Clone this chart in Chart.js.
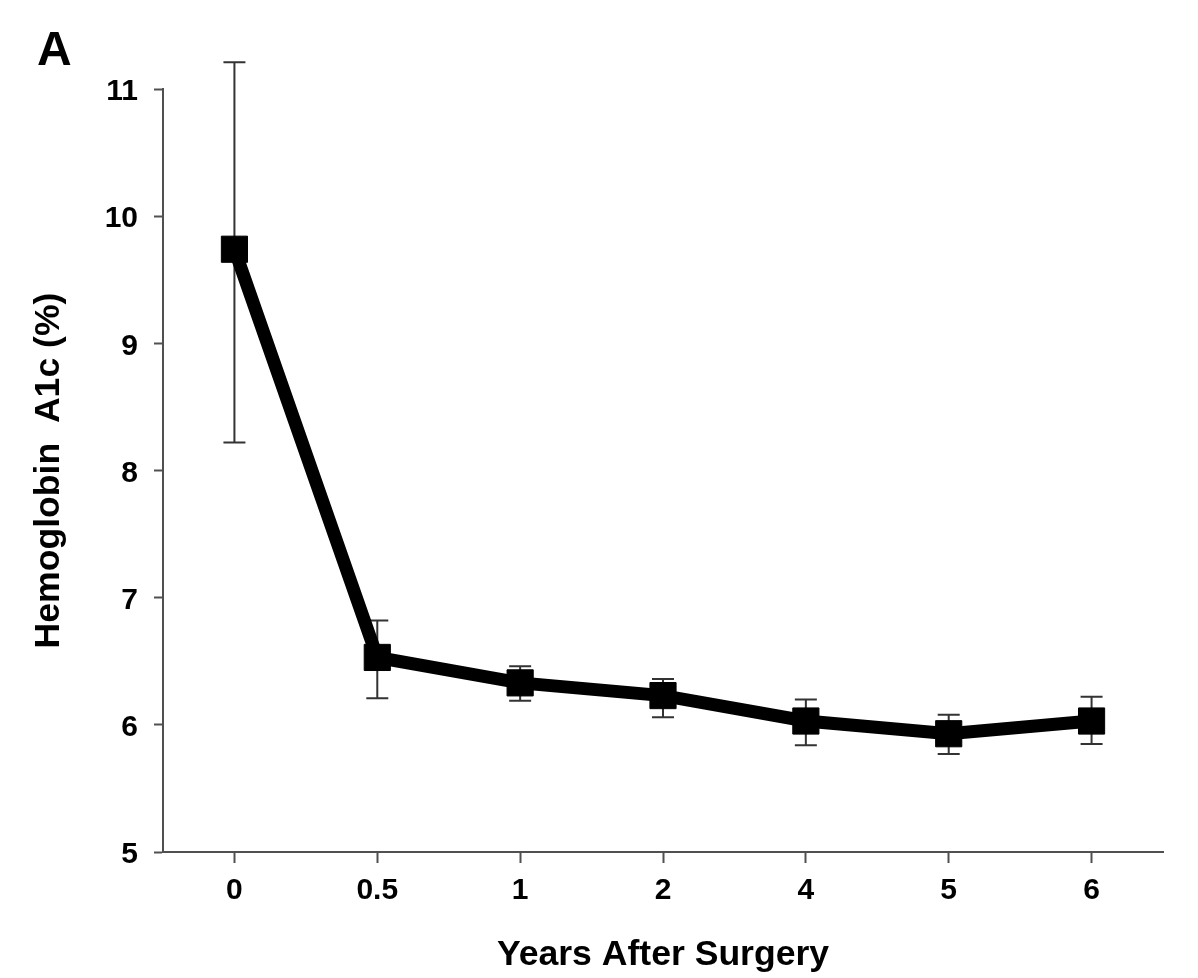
<!DOCTYPE html>
<html>
<head>
<meta charset="utf-8">
<script src="https://cdn.jsdelivr.net/npm/chart.js@4.4.1/dist/chart.umd.min.js"></script>
<style>
  html, body { margin: 0; padding: 0; background: #ffffff; }
  #wrap { width: 1198px; height: 978px; }
</style>
</head>
<body>
<div id="wrap"><canvas id="c" width="1198" height="978"></canvas></div>
<script>
// ---- data ----
const categories = ["0", "0.5", "1", "2", "4", "5", "6"];
const hba1cMean  = [9.74, 6.53, 6.33, 6.23, 6.03, 5.93, 6.03];
const errUpper   = [11.21, 6.82, 6.46, 6.36, 6.20, 6.08, 6.22];
const errLower   = [8.22, 6.21, 6.19, 6.06, 5.84, 5.77, 5.85];
const yTicks     = [5, 6, 7, 8, 9, 10, 11];
const panelLabel = "A";
const xTitle = "Years After Surgery";
const yTitle = "Hemoglobin  A1c (%)";

const FONT = "'Liberation Sans', Arial, Helvetica, sans-serif";
const AXIS_COLOR = "#505050";

const errorBars = {
  id: 'errorBars',
  beforeDatasetsDraw(chart) {
    const ctx = chart.ctx;
    const x = chart.scales.x, y = chart.scales.y;
    ctx.save();
    ctx.strokeStyle = "#333333";
    ctx.lineWidth = 2;
    const cap = 11;
    for (let i = 0; i < categories.length; i++) {
      const px = x.getPixelForValue(i);
      const yt = y.getPixelForValue(errUpper[i]);
      const yb = y.getPixelForValue(errLower[i]);
      ctx.beginPath();
      ctx.moveTo(px, yt); ctx.lineTo(px, yb);
      ctx.moveTo(px - cap, yt); ctx.lineTo(px + cap, yt);
      ctx.moveTo(px - cap, yb); ctx.lineTo(px + cap, yb);
      ctx.stroke();
    }
    ctx.restore();
  }
};

const panel = {
  id: 'panel',
  afterDraw(chart) {
    const ctx = chart.ctx;
    ctx.save();
    ctx.fillStyle = "#000";
    ctx.font = "bold 48px " + FONT;
    ctx.textBaseline = "alphabetic";
    ctx.textAlign = "left";
    ctx.fillText(panelLabel, 37, 65);
    ctx.restore();
  }
};

new Chart(document.getElementById('c'), {
  type: 'line',
  data: {
    labels: categories,
    datasets: [{
      data: hba1cMean,
      borderColor: '#000000',
      backgroundColor: '#000000',
      borderWidth: 13,
      pointStyle: 'rect',
      pointRadius: 18.5,
      pointHoverRadius: 18.5,
      pointBorderWidth: 1,
      pointBackgroundColor: '#000000',
      pointBorderColor: '#000000',
      tension: 0,
      clip: false
    }]
  },
  options: {
    responsive: false,
    animation: false,
    devicePixelRatio: 1,
    layout: { padding: { top: 89, right: 35, left: 0, bottom: 0 } },
    plugins: {
      legend: { display: false },
      tooltip: { enabled: false }
    },
    scales: {
      x: {
        type: 'category',
        offset: true,
        grid: { display: true, drawOnChartArea: false, drawTicks: true, tickLength: 11, tickWidth: 2, color: AXIS_COLOR, offset: false },
        border: { display: true, color: AXIS_COLOR, width: 2 },
        ticks: { color: '#000', font: { family: FONT, size: 30, weight: 'bold' }, padding: 10, maxRotation: 0 },
        title: { display: true, text: xTitle, color: '#000', font: { family: FONT, size: 35.6, weight: 'bold' }, padding: { top: 0, bottom: 1 } },
        afterFit(s) { s.height = 126; }
      },
      y: {
        type: 'linear',
        min: 5, max: 11,
        afterBuildTicks(s) { s.ticks = yTicks.map(v => ({ value: v })); },
        grid: { display: true, drawOnChartArea: false, drawTicks: true, tickLength: 9, tickWidth: 2, color: AXIS_COLOR },
        border: { display: true, color: AXIS_COLOR, width: 2 },
        ticks: { color: '#000', font: { family: FONT, size: 30, weight: 'bold' }, padding: 16, labelOffset: 3 },
        title: { display: true, text: yTitle, color: '#000', font: { family: FONT, size: 35.6, weight: 'bold' }, padding: { top: 28, bottom: 0 } },
        afterFit(s) { s.width = 163; }
      }
    }
  },
  plugins: [errorBars, panel]
});
</script>
</body>
</html>
